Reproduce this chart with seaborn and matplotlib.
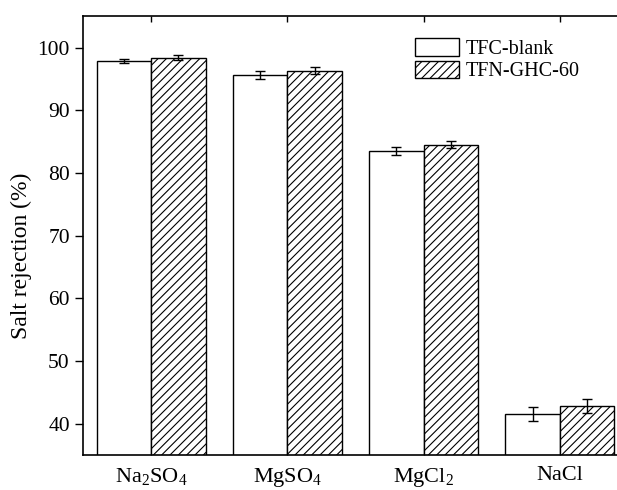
import matplotlib
matplotlib.use("Agg")
import matplotlib.pyplot as plt
from matplotlib.patches import Patch
import seaborn as sns
import pandas as pd

salts = [r"Na$_2$SO$_4$", r"MgSO$_4$", r"MgCl$_2$", "NaCl"]
membranes = ["TFC-blank", "TFN-GHC-60"]
tfc_blank = [97.9, 95.6, 83.5, 41.6]
tfc_blank_err = [0.3, 0.6, 0.6, 1.1]
tfn_ghc60 = [98.4, 96.3, 84.5, 42.8]
tfn_ghc60_err = [0.35, 0.55, 0.6, 1.15]

df = pd.DataFrame({
    "salt": salts * 2,
    "membrane": [membranes[0]] * 4 + [membranes[1]] * 4,
    "rejection": tfc_blank + tfn_ghc60,
})
errs = tfc_blank_err + tfn_ghc60_err

sns.set_style("ticks", {"axes.edgecolor": "black", "text.color": "black",
                        "axes.labelcolor": "black", "xtick.color": "black",
                        "ytick.color": "black"})
plt.rcParams["font.family"] = ["Liberation Serif", "DejaVu Serif"]
plt.rcParams["mathtext.fontset"] = "custom"
plt.rcParams["mathtext.rm"] = "Liberation Serif"
plt.rcParams["mathtext.default"] = "regular"
plt.rcParams["hatch.linewidth"] = 0.8

fig = plt.figure(figsize=(6.17, 4.9), dpi=100)
ax = fig.add_axes([0.1345, 0.0714, 0.8655, 0.8956])

sns.barplot(data=df, x="salt", y="rejection", hue="membrane",
            palette=["white", "white"], edgecolor="black", linewidth=1.0,
            errorbar=None, width=0.8, legend=False, ax=ax)

hatches = ["", "////"]
bar_groups = list(ax.containers)
for i, cont in enumerate(bar_groups):
    for j, bar in enumerate(cont):
        bar.set_hatch(hatches[i])
        cx = bar.get_x() + bar.get_width() / 2
        ax.errorbar(cx, bar.get_height(), yerr=errs[i * 4 + j], fmt="none",
                    ecolor="black", elinewidth=1.0, capsize=3.5, capthick=1.0)

ax.set_ylim(35, 105)
ax.set_xlim(-0.5, 3.42)
ax.set_yticks([40, 50, 60, 70, 80, 90, 100])
ax.set_xlabel("")
ax.set_ylabel("Salt rejection (%)", fontsize=17)
ax.yaxis.set_label_coords(-0.095, 0.453)
ax.tick_params(axis="y", direction="out", length=6, width=1, labelsize=15.5)
ax.tick_params(axis="x", direction="in", length=4, width=1, labelsize=16,
               top=True, pad=8)
for side in ["left", "top", "bottom"]:
    ax.spines[side].set_linewidth(1.2)
ax.spines["right"].set_visible(False)

handles = [Patch(facecolor="white", edgecolor="black", linewidth=1.0, hatch=h)
           for h in hatches]
ax.legend(handles, membranes, loc="upper left", bbox_to_anchor=(0.607, 0.968),
          frameon=False, fontsize=14.5, handlelength=2.2, handleheight=0.95,
          handletextpad=0.3, labelspacing=0.1, borderaxespad=0)

fig.savefig("out.png", dpi=100)
